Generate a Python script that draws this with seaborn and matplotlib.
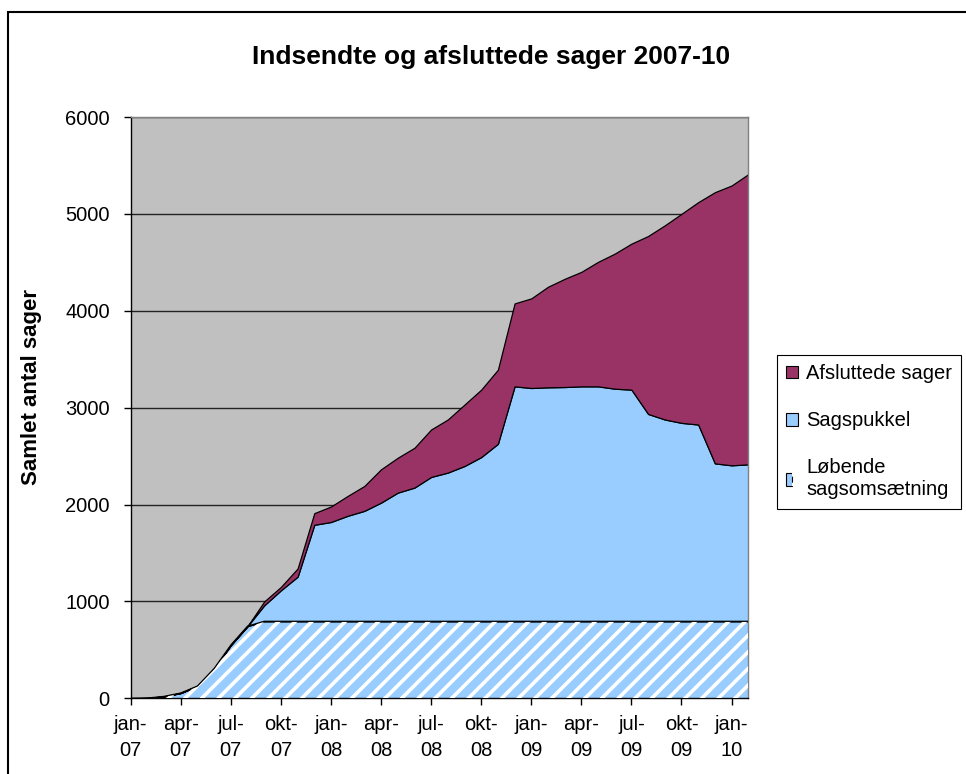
import numpy as np
import pandas as pd
import matplotlib
matplotlib.use("Agg")
import matplotlib.pyplot as plt
import seaborn as sns
from matplotlib.patches import Patch, Rectangle
from matplotlib.legend_handler import HandlerTuple

# data: monthly, jan-07 .. feb-10
months = ["jan-07", "feb-07", "mar-07", "apr-07", "maj-07", "jun-07", "jul-07", "aug-07",
          "sep-07", "okt-07", "nov-07", "dec-07", "jan-08", "feb-08", "mar-08", "apr-08",
          "maj-08", "jun-08", "jul-08", "aug-08", "sep-08", "okt-08", "nov-08", "dec-08",
          "jan-09", "feb-09", "mar-09", "apr-09", "maj-09", "jun-09", "jul-09", "aug-09",
          "sep-09", "okt-09", "nov-09", "dec-09", "jan-10", "feb-10"]
loebende = [0, 3, 20, 55, 127, 308, 550, 745, 795, 795, 795, 795, 795, 795, 795, 795,
            795, 795, 795, 795, 795, 795, 795, 795, 795, 795, 795, 795, 795, 795, 795, 795,
            795, 795, 795, 795, 795, 795]
sagspukkel = [0, 0, 0, 0, 0, 0, 0, 0, 165, 320, 460, 996, 1025, 1089, 1140, 1225,
              1328, 1380, 1490, 1535, 1603, 1695, 1832, 2425, 2408, 2415, 2418, 2425, 2425, 2401,
              2391, 2140, 2083, 2048, 2031, 1630, 1610, 1620]
afsluttede = [0, 0, 0, 0, 0, 0, 0, 0, 40, 35, 85, 120, 160, 205, 257, 344,
              360, 411, 490, 548, 634, 696, 765, 856, 925, 1038, 1117, 1182, 1285, 1394,
              1507, 1837, 2004, 2158, 2295, 2799, 2888, 2995]
tick_labels = ["jan-\n07", "apr-\n07", "jul-\n07", "okt-\n07", "jan-\n08", "apr-\n08", "jul-\n08",
               "okt-\n08", "jan-\n09", "apr-\n09", "jul-\n09", "okt-\n09", "jan-\n10"]

df = pd.DataFrame({"maaned": months, "loebende": loebende,
                   "sagspukkel": sagspukkel, "afsluttede": afsluttede})
x = np.arange(len(df))

sns.set_theme(style="white")
plt.rcParams["font.family"] = ["Liberation Sans", "DejaVu Sans"]
plt.rcParams["hatch.linewidth"] = 2.6
for k in ["text.color", "axes.labelcolor", "xtick.color", "ytick.color"]:
    plt.rcParams[k] = "black"

fig = plt.figure(figsize=(9.66, 7.74), dpi=100)
ax = fig.add_axes([0.1353, 0.0978, 0.6393, 0.751])
ax.set_facecolor("#C0C0C0")

blue = "#99CCFF"
maroon = "#993366"
ax.stackplot(x, df["loebende"], df["sagspukkel"], df["afsluttede"],
             colors=[blue, blue, maroon], edgecolor="black", linewidth=0.9, zorder=2)
# white diagonal stripes on the bottom layer
ax.fill_between(x, 0, df["loebende"], facecolor="none", edgecolor="white",
                hatch="//", linewidth=0, zorder=3)
ax.plot(x, df["loebende"], color="black", lw=0.9, zorder=4)

ax.set_xlim(0, len(df) - 1)
ax.set_ylim(0, 6000)
ax.set_yticks(range(0, 6001, 1000))
ax.set_xticks(x[::3])
ax.set_xticklabels(tick_labels, linespacing=1.45)
ax.grid(axis="y", color="#222222", lw=1.0, zorder=1)
ax.set_axisbelow(True)
ax.tick_params(axis="both", labelsize=14.5, length=5, width=1, color="black",
               direction="out", bottom=True, left=True)
ax.tick_params(axis="y", pad=10)
ax.tick_params(axis="x", pad=7)
for s in ["left", "bottom"]:
    ax.spines[s].set_color("black")
    ax.spines[s].set_linewidth(1.0)
for s in ["top", "right"]:
    ax.spines[s].set_color("#808080")
    ax.spines[s].set_linewidth(1.0)

fig.text(491 / 966, 1 - 57 / 774, "Indsendte og afsluttede sager 2007-10",
         ha="center", va="center", fontsize=19, fontweight="bold")
fig.text(32 / 966, 1 - 387 / 774, "Samlet antal sager", rotation=90,
         ha="center", va="center", fontsize=16, fontweight="bold")

handles = [Patch(facecolor=maroon, edgecolor="black", lw=0.8),
           Patch(facecolor=blue, edgecolor="black", lw=0.8),
           (Patch(facecolor=blue, edgecolor="black", lw=0.8),
            Patch(facecolor="none", edgecolor="white", hatch="///", lw=0))]
labels = ["Afsluttede sager", "Sagspukkel", "Løbende\nsagsomsætning"]
leg = fig.legend(handles, labels, loc="upper left",
                 bbox_to_anchor=(777 / 966, 1 - 355 / 774), borderaxespad=0,
                 fontsize=14.5, frameon=True, fancybox=False, framealpha=1,
                 edgecolor="black", handlelength=0.6, handleheight=0.6,
                 handletextpad=0.4, labelspacing=1.4, borderpad=0.45,
                 handler_map={tuple: HandlerTuple(ndivide=None, pad=0)})
leg.get_frame().set_linewidth(0.8)

# outer chart border (cut off at right and bottom in the reference)
fig.patches.append(Rectangle((8 / 966, -0.1), 1.2, 1 - 12 / 774 + 0.1,
                             transform=fig.transFigure, fill=False,
                             edgecolor="black", lw=1.5))

fig.savefig("out.png", dpi=100)
